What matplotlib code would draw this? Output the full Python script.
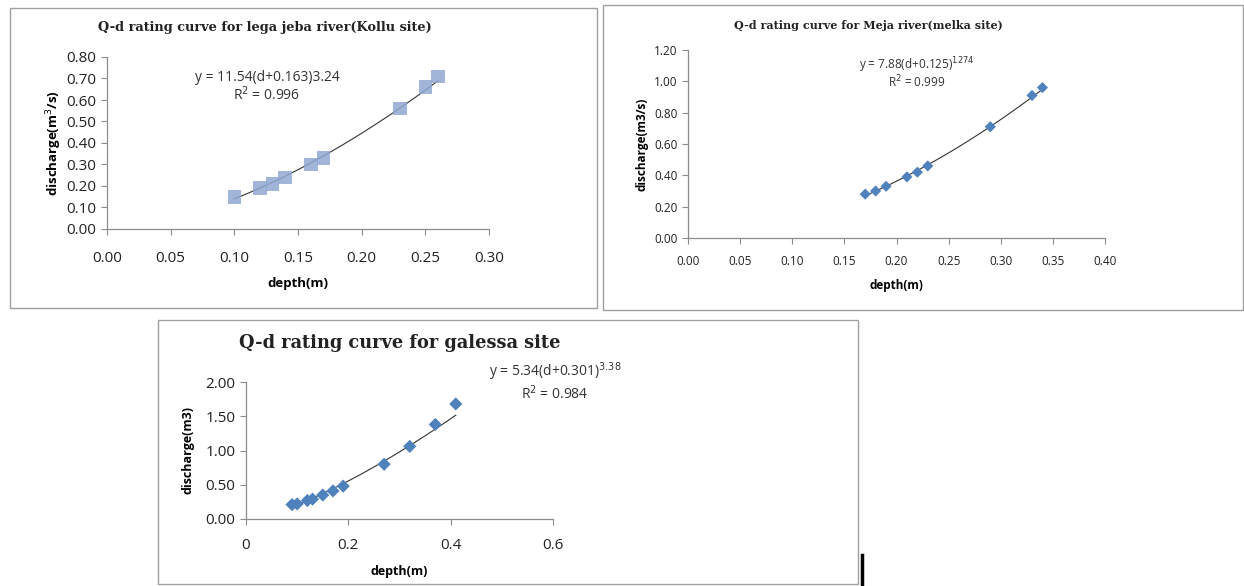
import matplotlib
matplotlib.use('Agg')
import matplotlib.pyplot as plt
import matplotlib.patches as patches
from matplotlib.lines import Line2D
import numpy as np

W, H = 1244, 586

# Kollu site (lega jeba river)
kollu_depth = [0.10, 0.12, 0.13, 0.14, 0.16, 0.17, 0.23, 0.25, 0.26]
kollu_q = [0.15, 0.19, 0.21, 0.24, 0.30, 0.33, 0.56, 0.66, 0.71]

# melka site (Meja river)
melka_depth = [0.17, 0.18, 0.19, 0.21, 0.22, 0.23, 0.29, 0.33, 0.34]
melka_q = [0.28, 0.30, 0.33, 0.39, 0.42, 0.46, 0.71, 0.91, 0.96]

# galessa site
galessa_depth = [0.09, 0.10, 0.12, 0.13, 0.15, 0.17, 0.19, 0.27, 0.32, 0.37, 0.41]
galessa_q = [0.21, 0.22, 0.27, 0.29, 0.35, 0.41, 0.48, 0.80, 1.06, 1.38, 1.68]

SANS = 'Open Sans'
SERIF = 'DejaVu Serif'
GREY = '#8c8c8c'


def box(l, t, r, b):
    return [l / W, 1 - b / H, (r - l) / W, (b - t) / H]


def px(x, y):
    return x / W, 1 - y / H


def power_trend(ax, x, y):
    # Excel style power trendline, fitted in log space
    b, lna = np.polyfit(np.log(x), np.log(y), 1)
    xs = np.linspace(min(x), max(x), 100)
    ax.plot(xs, np.exp(lna) * xs ** b, color='#333333', lw=0.8, zorder=2)


def style(ax, fs):
    for s in ['top', 'right']:
        ax.spines[s].set_visible(False)
    for s in ['left', 'bottom']:
        ax.spines[s].set_color(GREY)
        ax.spines[s].set_linewidth(0.9)
    ax.tick_params(direction='out', length=4, color=GREY, labelsize=fs,
                   labelcolor='#222222')
    for lab in ax.get_xticklabels() + ax.get_yticklabels():
        lab.set_family(SANS)


fig = plt.figure(figsize=(W / 100, H / 100), dpi=100)

# panel frames
for (l, t, r, b) in [(10, 8, 597, 308), (603, 5, 1243, 310), (158, 320, 858, 584)]:
    fig.patches.append(patches.Rectangle(px(l, b), (r - l) / W, (b - t) / H,
                                         transform=fig.transFigure, fill=False,
                                         ec='#a0a0a0', lw=1.0))
fig.lines.append(Line2D([862 / W, 862 / W], [0, 1 - 555 / H], transform=fig.transFigure,
                        color='black', lw=2.5))

# ---- panel 1
ax1 = fig.add_axes(box(107, 57, 489, 229))
ax1.scatter(kollu_depth, kollu_q, marker='s', s=95, color='#8fa8d2', alpha=0.85,
            edgecolors='none', zorder=3)
power_trend(ax1, kollu_depth, kollu_q)
ax1.set_xlim(0, 0.30)
ax1.set_ylim(0, 0.80)
ax1.set_xticks(np.arange(0, 0.31, 0.05))
ax1.set_yticks(np.arange(0, 0.81, 0.10))
ax1.xaxis.set_major_formatter('{x:.2f}')
ax1.yaxis.set_major_formatter('{x:.2f}')
style(ax1, 11)
ax1.tick_params(axis='x', pad=12)
ax1.set_xlabel('depth(m)', fontsize=9.5, fontweight='bold', family=SANS, labelpad=8)
ax1.set_ylabel('discharge(m$^3$/s)', fontsize=9.5, fontweight='bold', family=SANS, labelpad=2)
fig.text(*px(265, 27), 'Q-d rating curve for lega jeba river(Kollu site)', ha='center',
         va='center', fontsize=9.3, fontweight='bold', family=SERIF, color='#222222')
fig.text(*px(267, 77), 'y = 11.54(d+0.163)3.24', ha='center', va='center', fontsize=10,
         family=SANS, color='#333333')
fig.text(*px(267, 95), 'R$^2$ = 0.996', ha='center', va='center', fontsize=10,
         family=SANS, color='#333333')

# ---- panel 2
ax2 = fig.add_axes(box(688, 50, 1105, 238))
ax2.scatter(melka_depth, melka_q, marker='D', s=32, color='#4f81bd', edgecolors='none',
            zorder=3)
power_trend(ax2, melka_depth, melka_q)
ax2.set_xlim(0, 0.40)
ax2.set_ylim(0, 1.20)
ax2.set_xticks(np.arange(0, 0.41, 0.05))
ax2.set_yticks(np.arange(0, 1.21, 0.20))
ax2.xaxis.set_major_formatter('{x:.2f}')
ax2.yaxis.set_major_formatter('{x:.2f}')
style(ax2, 8.5)
ax2.tick_params(axis='x', pad=8)
ax2.set_xlabel('depth(m)', fontsize=8.5, fontweight='bold', family=SANS, labelpad=8)
ax2.set_ylabel('discharge(m3/s)', fontsize=8.5, fontweight='bold', family=SANS, labelpad=4)
fig.text(*px(868, 25), 'Q-d rating curve for Meja river(melka site)', ha='center',
         va='center', fontsize=8, fontweight='bold', family=SERIF, color='#222222')
fig.text(*px(917, 65), 'y = 7.88(d+0.125)$^{1274}$', ha='center', va='center', fontsize=8.5,
         family=SANS, color='#333333')
fig.text(*px(917, 82), 'R$^2$ = 0.999', ha='center', va='center', fontsize=8.5,
         family=SANS, color='#333333')

# ---- panel 3
ax3 = fig.add_axes(box(246, 382, 553, 519))
ax3.scatter(galessa_depth, galessa_q, marker='D', s=45, color='#4f81bd', edgecolors='none',
            zorder=3)
power_trend(ax3, galessa_depth, galessa_q)
ax3.set_xlim(0, 0.6)
ax3.set_ylim(0, 2.0)
ax3.set_xticks([0, 0.2, 0.4, 0.6])
ax3.set_xticklabels(['0', '0.2', '0.4', '0.6'])
ax3.set_yticks(np.arange(0, 2.01, 0.5))
ax3.yaxis.set_major_formatter('{x:.2f}')
style(ax3, 11)
ax3.tick_params(axis='x', pad=10)
ax3.set_xlabel('depth(m)', fontsize=9, fontweight='bold', family=SANS, labelpad=8)
ax3.set_ylabel('discharge(m3)', fontsize=9, fontweight='bold', family=SANS, labelpad=8)
fig.text(*px(400, 343), 'Q-d rating curve for galessa site', ha='center', va='center',
         fontsize=12.8, fontweight='bold', family=SERIF, color='#222222')
fig.text(*px(555, 372), 'y = 5.34(d+0.301)$^{3.38}$', ha='center', va='center', fontsize=10,
         family=SANS, color='#333333')
fig.text(*px(555, 394), 'R$^2$ = 0.984', ha='center', va='center', fontsize=10,
         family=SANS, color='#333333')

fig.savefig('out.png', dpi=100, facecolor='white')
